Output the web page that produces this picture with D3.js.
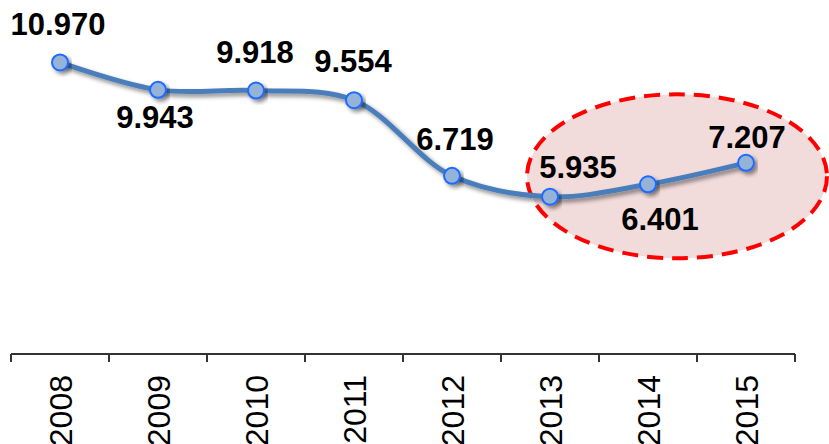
<!DOCTYPE html>
<html>
<head>
<meta charset="utf-8">
<script src="https://cdn.jsdelivr.net/npm/d3@7"></script>
<style>
  body { margin: 0; background: #fff; }
  svg { display: block; font-family: "Liberation Sans", Arial, sans-serif; }
</style>
</head>
<body>
<div id="chart"></div>
<script>
// data
const years = ["2008", "2009", "2010", "2011", "2012", "2013", "2014", "2015"];
const values = [10.970, 9.943, 9.918, 9.554, 6.719, 5.935, 6.401, 7.207];
const labels = ["10.970", "9.943", "9.918", "9.554", "6.719", "5.935", "6.401", "7.207"];
const highlighted = ["2013", "2014", "2015"];

// label placement (offsets from the point, in px)
const labelOffsets = [
  [-2, -27], [-3, 38], [-1, -28], [-1, -28],
  [3, -26], [28, -19], [12, 46], [1, -15]
];

const width = 829, height = 444;

const svg = d3.select("#chart").append("svg")
  .attr("width", width)
  .attr("height", height);

const defs = svg.append("defs");
const shadow = defs.append("filter")
  .attr("id", "shadow")
  .attr("x", "-20%").attr("y", "-20%")
  .attr("width", "140%").attr("height", "160%");
shadow.append("feDropShadow")
  .attr("dx", 3).attr("dy", 3)
  .attr("stdDeviation", 2)
  .attr("flood-color", "#000")
  .attr("flood-opacity", 0.45);

const x = d3.scaleBand()
  .domain(years)
  .range([11, 795])
  .padding(0);

const y = d3.scaleLinear()
  .domain([0, 12])
  .range([355, 35]);

const cx = d => x(d) + x.bandwidth() / 2;

// highlight ellipse behind the tail of the series
const hi = highlighted.map(yr => years.indexOf(yr));
const hx0 = cx(highlighted[0]), hx1 = cx(highlighted[highlighted.length - 1]);
svg.append("ellipse")
  .attr("cx", (hx0 + hx1) / 2 + 29)
  .attr("cy", d3.mean(hi, i => y(values[i])) - 5)
  .attr("rx", 150)
  .attr("ry", 82)
  .attr("fill", "#f2dcdb")
  .attr("stroke", "#ff0000")
  .attr("stroke-width", 4)
  .attr("stroke-dasharray", "16,9");

// x axis line and ticks at band edges
const axisY = 354;
const axis = svg.append("g").attr("class", "x-axis");
axis.append("line")
  .attr("x1", x.range()[0]).attr("x2", x.range()[1])
  .attr("y1", axisY).attr("y2", axisY)
  .attr("stroke", "#333").attr("stroke-width", 2);
const edges = years.map(d => x(d)).concat([x.range()[1]]);
axis.selectAll("line.tick")
  .data(edges)
  .enter().append("line")
  .attr("class", "tick")
  .attr("x1", d => d).attr("x2", d => d)
  .attr("y1", axisY).attr("y2", axisY + 8)
  .attr("stroke", "#333").attr("stroke-width", 2);
axis.selectAll("text")
  .data(years)
  .enter().append("text")
  .attr("transform", d => "translate(" + cx(d) + "," + 375 + ") rotate(-90)")
  .attr("text-anchor", "end")
  .attr("dy", "0.36em")
  .attr("font-size", 32)
  .attr("fill", "#000")
  .text(d => d);

// smoothed line
const line = d3.line()
  .x((d, i) => cx(years[i]))
  .y(d => y(d))
  .curve(d3.curveCatmullRom.alpha(0.5));

svg.append("path")
  .datum(values)
  .attr("d", line)
  .attr("fill", "none")
  .attr("stroke", "#4a7ebb")
  .attr("stroke-width", 5)
  .attr("filter", "url(#shadow)");

// markers
svg.selectAll("circle.pt")
  .data(values)
  .enter().append("circle")
  .attr("class", "pt")
  .attr("cx", (d, i) => cx(years[i]))
  .attr("cy", d => y(d))
  .attr("r", 8)
  .attr("fill", "#95b3d7")
  .attr("stroke", "#1f6bff")
  .attr("stroke-width", 2)
  .attr("filter", "url(#shadow)");

// value labels
svg.selectAll("text.val")
  .data(values)
  .enter().append("text")
  .attr("class", "val")
  .attr("x", (d, i) => cx(years[i]) + labelOffsets[i][0])
  .attr("y", (d, i) => y(d) + labelOffsets[i][1])
  .attr("text-anchor", "middle")
  .attr("font-size", 31)
  .attr("font-weight", "bold")
  .attr("fill", "#000")
  .text((d, i) => labels[i]);
</script>
</body>
</html>
